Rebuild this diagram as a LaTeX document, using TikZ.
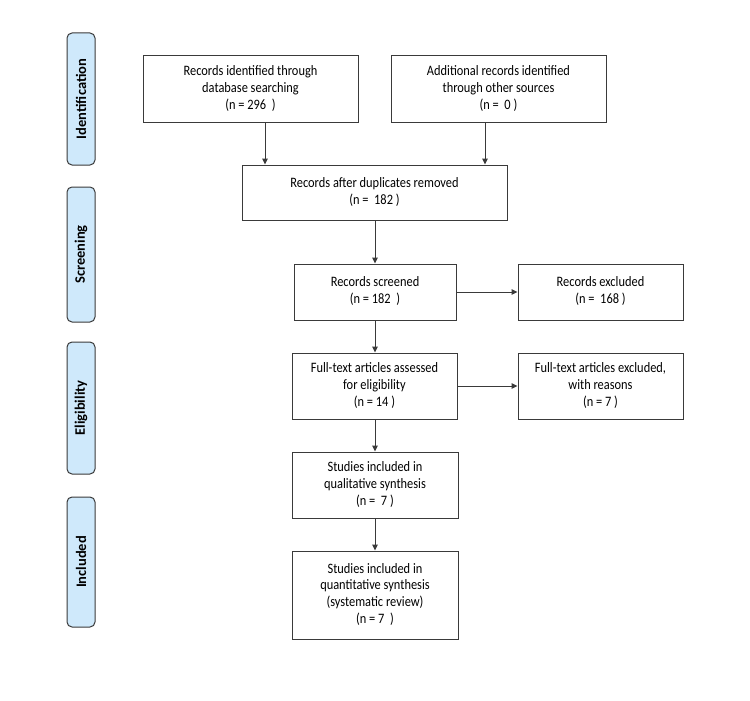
\documentclass[tikz,border=0pt]{standalone}
\usepackage{fontspec}
\setmainfont{Carlito}
\usetikzlibrary{arrows.meta}
\definecolor{edge}{HTML}{3A3A3A}
\definecolor{phasefill}{HTML}{CFE9FB}
\tikzset{
  box/.style={draw=edge, line width=1pt, fill=white, align=center, inner sep=2pt,
    font=\fontsize{12.4}{14.4}\selectfont},
  phase/.style={draw=edge, line width=1pt, fill=phasefill, rounded corners=5pt,
    minimum width=28pt, inner sep=0pt},
  phasetext/.style={rotate=90, font=\bfseries\fontsize{14.5}{16}\selectfont},
  arr/.style={draw=edge, line width=1pt, -{Triangle[length=6pt,width=5.5pt]}}
}
\newcommand{\boxtext}[1]{\scalebox{1}[1.16]{\begin{tabular}{@{}c@{}}#1\end{tabular}}}
\begin{document}
\begin{tikzpicture}[x=1pt,y=-1pt]
\useasboundingbox (0,0) rectangle (750,701);
% phase labels
\node[phase, minimum height=132pt] (p1) at (81,99) {};
\node[phasetext] at (p1) {Identification};
\node[phase, minimum height=135pt] (p2) at (81,254.5) {};
\node[phasetext] at (p2) {Screening};
\node[phase, minimum height=132pt] (p3) at (81,408) {};
\node[phasetext] at (p3) {Eligibility};
\node[phase, minimum height=130pt] (p4) at (81,562) {};
\node[phasetext] at (p4) {Included};
% boxes
\node[box, minimum width=215pt, minimum height=66pt] (a) at (250.5,89) {\boxtext{Records identified through\\database searching\\(n = 296~~)}};
\node[box, minimum width=215pt, minimum height=66pt] (b) at (498.5,89) {\boxtext{Additional records identified\\through other sources\\(n =~ 0 )}};
\node[box, minimum width=265pt, minimum height=55pt] (c) at (374.5,192.5) {\boxtext{Records after duplicates removed\\(n =~ 182 )}};
\node[box, minimum width=162pt, minimum height=56pt] (d) at (375,292) {\boxtext{Records screened\\(n = 182~~)}};
\node[box, minimum width=165pt, minimum height=56pt] (e) at (600.5,292) {\boxtext{Records excluded\\(n =~ 168 )}};
\node[box, minimum width=165pt, minimum height=66pt] (f) at (374.5,386) {\boxtext{Full-text articles assessed\\for eligibility\\(n = 14 )}};
\node[box, minimum width=165pt, minimum height=66pt] (g) at (600.5,386) {\boxtext{Full-text articles excluded,\\with reasons\\(n = 7 )}};
\node[box, minimum width=166pt, minimum height=66pt] (h) at (375,485) {\boxtext{Studies included in\\qualitative synthesis\\(n =~ 7 )}};
\node[box, minimum width=166pt, minimum height=88pt] (i) at (375,595) {\boxtext{Studies included in\\quantitative synthesis\\(systematic review)\\(n = 7~~)}};
% arrows
\draw[arr] (a.south -| 265,0) -- (c.north -| 265,0);
\draw[arr] (b.south -| 485,0) -- (c.north -| 485,0);
\draw[arr] (c.south -| d.north) -- (d.north);
\draw[arr] (d.east) -- (e.west);
\draw[arr] (d.south) -- (f.north -| d.south);
\draw[arr] (f.east) -- (g.west);
\draw[arr] (f.south -| h.north) -- (h.north);
\draw[arr] (h.south) -- (i.north);
\end{tikzpicture}
\end{document}
